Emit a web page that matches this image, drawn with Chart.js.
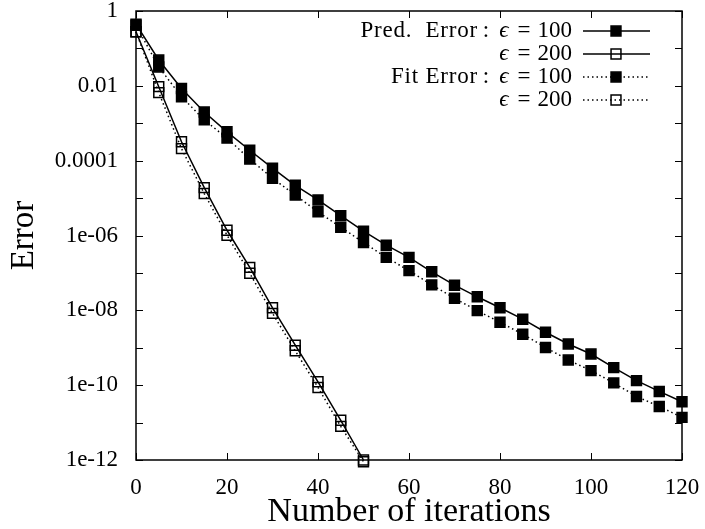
<!DOCTYPE html>
<html><head><meta charset="utf-8">
<script src="https://cdn.jsdelivr.net/npm/chart.js@4/dist/chart.umd.min.js"></script>
<style>html,body{margin:0;padding:0;background:#fff;}canvas{display:block}</style>
</head><body>
<canvas id="c" width="705" height="529"></canvas>
<script>
// ---- data ----
const iterA = [0,5,10,15,20,25,30,35,40,45,50,55,60,65,70,75,80,85,90,95,100,105,110,115,120];
const predErr100 = [0.447,0.049,0.0085,0.0020,5.9e-4,1.9e-4,6.3e-5,2.2e-5,8.9e-6,3.4e-6,1.3e-6,5.5e-7,2.6e-7,1.07e-7,4.7e-8,2.3e-8,1.17e-8,5.8e-9,2.6e-9,1.26e-9,6.8e-10,2.95e-10,1.32e-10,6.8e-11,3.6e-11];
const fitErr100  = [0.417,0.032,0.0051,0.00123,4.0e-4,1.1e-4,3.4e-5,1.2e-5,4.3e-6,1.66e-6,6.5e-7,2.6e-7,1.15e-7,4.8e-8,2.1e-8,9.8e-9,4.8e-9,2.3e-9,1.02e-9,4.7e-10,2.45e-10,1.15e-10,5.0e-11,2.7e-11,1.38e-11];
const iterB = [0,5,10,15,20,25,30,35,40,45,50];
const predErr200 = [0.28,0.0095,3.2e-4,1.9e-5,1.38e-6,1.41e-7,1.17e-8,1.17e-9,1.23e-10,1.15e-11,1.0e-12];
const fitErr200  = [0.28,0.0066,2.1e-4,1.32e-5,1.02e-6,9.8e-8,8.3e-9,8.3e-10,8.7e-11,7.9e-12,9.0e-13];
const xTickValues = [0,20,40,60,80,100,120];
const yDecades = [1,1e-1,1e-2,1e-3,1e-4,1e-5,1e-6,1e-7,1e-8,1e-9,1e-10,1e-11,1e-12];
const yTickLabels = {"0":"1","-2":"0.01","-4":"0.0001","-6":"1e-06","-8":"1e-08","-10":"1e-10","-12":"1e-12"};
const legendPrefixes = ["Pred.  Error", "", "Fit Error", ""];
const legendEps = ["100", "200", "100", "200"];
const xTitle = "Number of iterations";
const yTitle = "Error";

const SERIF = "'Liberation Serif','DejaVu Serif',serif";
const toPts = (xs, ys) => xs.map((x,i)=>({x:x, y:ys[i]}));

const styles = [
  {data: toPts(iterA, predErr100), dash: [], fill: '#000'},
  {data: toPts(iterB, predErr200), dash: [], fill: 'rgba(0,0,0,0)'},
  {data: toPts(iterA, fitErr100), dash: [1.5,3], fill: '#000'},
  {data: toPts(iterB, fitErr200), dash: [1.5,3], fill: 'rgba(0,0,0,0)'}
];

const datasets = styles.map(s => ({
  data: s.data,
  showLine: true,
  borderColor: '#000',
  borderWidth: 1.5,
  borderDash: s.dash,
  pointStyle: 'rect',
  pointRadius: 7,
  pointHoverRadius: 7,
  pointBackgroundColor: s.fill,
  pointBorderColor: '#000',
  pointBorderWidth: 1.5,
  clip: false,
  tension: 0
}));

const frame = {
  id: 'frame',
  afterDraw(chart) {
    const {ctx, chartArea: a, scales: {x, y}} = chart;
    ctx.save();
    ctx.strokeStyle = '#000';
    ctx.lineWidth = 1.5;
    ctx.strokeRect(a.left, a.top, a.right - a.left, a.bottom - a.top);
    ctx.lineWidth = 1;
    const tl = 7;
    ctx.beginPath();
    x.ticks.forEach(t => {
      const px = Math.round(x.getPixelForValue(t.value)) + 0.5;
      ctx.moveTo(px, a.bottom); ctx.lineTo(px, a.bottom - tl);
      ctx.moveTo(px, a.top); ctx.lineTo(px, a.top + tl);
    });
    y.ticks.forEach(t => {
      const py = Math.round(y.getPixelForValue(t.value)) + 0.5;
      ctx.moveTo(a.left, py); ctx.lineTo(a.left + tl, py);
      ctx.moveTo(a.right, py); ctx.lineTo(a.right - tl, py);
    });
    ctx.stroke();

    // legend (top right, inside the frame)
    const roman = "23px " + SERIF;
    const ital = "italic 23px " + SERIF;
    const lineL = a.right - 99, lineR = a.right - 32, mX = a.right - 66;
    const rowY = [31, 54, 77, 100];
    ctx.fillStyle = '#000';
    ctx.textBaseline = 'middle';
    legendEps.forEach((eps, i) => {
      const yy = rowY[i];
      ctx.font = roman;
      ctx.textAlign = 'right';
      ctx.fillText(eps, a.right - 110, yy);
      ctx.textAlign = 'center';
      ctx.fillText("=", a.right - 158, yy);
      ctx.font = ital;
      ctx.fillText("\u03F5", a.right - 178, yy);
      if (legendPrefixes[i]) {
        ctx.font = roman;
        ctx.fillText(":", a.right - 196, yy);
        ctx.textAlign = 'right';
        ctx.letterSpacing = '0.8px';
        ctx.fillText(legendPrefixes[i], a.right - 204, yy);
        ctx.letterSpacing = '0px';
      }
      const st = styles[i];
      ctx.save();
      ctx.strokeStyle = '#000';
      ctx.lineWidth = 1.5;
      ctx.setLineDash(st.dash);
      ctx.beginPath(); ctx.moveTo(lineL, yy); ctx.lineTo(lineR, yy); ctx.stroke();
      ctx.restore();
      ctx.save();
      ctx.fillStyle = st.fill; ctx.strokeStyle = '#000'; ctx.lineWidth = 1.5;
      Chart.helpers.drawPoint(ctx, {pointStyle: 'rect', radius: 7, rotation: 0, borderWidth: 1.5}, mX, yy);
      ctx.restore();
    });
    ctx.restore();
  }
};

new Chart(document.getElementById('c'), {
  type: 'scatter',
  data: {datasets},
  options: {
    responsive: false,
    animation: false,
    devicePixelRatio: 1,
    layout: {padding: {left: 0, right: 23, top: 11, bottom: 0}},
    plugins: {legend: {display: false}, tooltip: {enabled: false}},
    scales: {
      x: {
        type: 'linear', min: 0, max: 120,
        grid: {display: false, drawTicks: false},
        border: {display: false},
        afterBuildTicks: s => { s.ticks = xTickValues.map(v => ({value: v})); },
        afterFit: s => { s.height = 69; s.paddingLeft = 0; s.paddingRight = 0; },
        ticks: {color: '#000', font: {family: SERIF, size: 23}, padding: 14, autoSkip: false, maxRotation: 0},
        title: {display: true, text: xTitle, color: '#000', font: {family: SERIF, size: 34, lineHeight: 1.0}, padding: {top: 0, bottom: 0}}
      },
      y: {
        type: 'logarithmic', min: 1e-12, max: 1,
        grid: {display: false, drawTicks: false},
        border: {display: false},
        afterBuildTicks: s => { s.ticks = yDecades.map(v => ({value: v})); },
        afterFit: s => { s.width = 136; s.paddingTop = 0; s.paddingBottom = 0; },
        ticks: {color: '#000', font: {family: SERIF, size: 23}, padding: 18, autoSkip: false,
          callback: v => { const k = String(Math.round(Math.log10(v))); return yTickLabels[k] !== undefined ? yTickLabels[k] : ''; }},
        title: {display: true, text: yTitle, color: '#000', font: {family: SERIF, size: 33, lineHeight: 1.2}, padding: {top: 5, bottom: 0}}
      }
    }
  },
  plugins: [frame]
});
</script>
</body></html>
